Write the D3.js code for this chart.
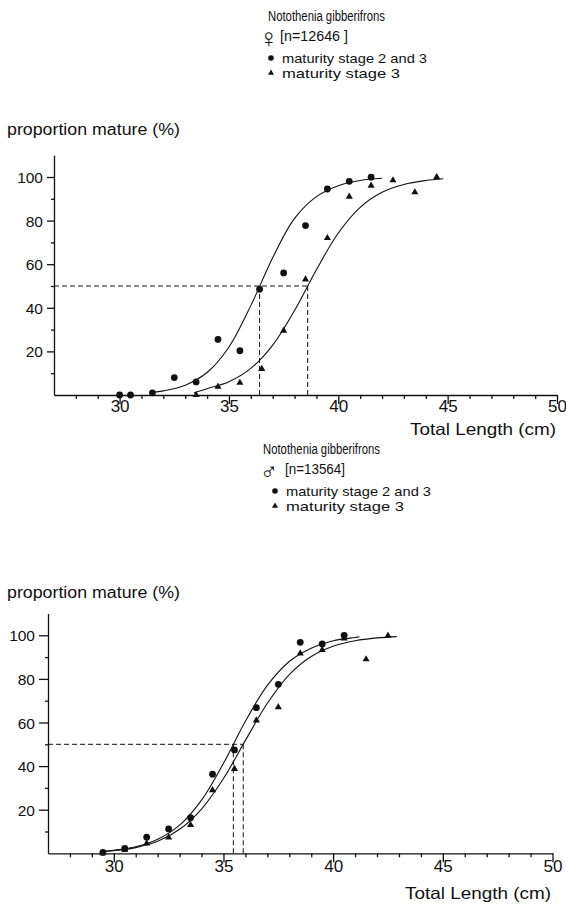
<!DOCTYPE html>
<html><head><meta charset="utf-8">
<script src="https://cdn.jsdelivr.net/npm/d3@7"></script>
<style>
body{margin:0;background:#fff}
svg{display:block}
text{font-family:"Liberation Sans",Arial,Helvetica,sans-serif;fill:#111}
</style>
</head><body>
<script>
// ---------- DATA ----------
// Female panel
const femaleLen23  = [30, 30.5, 31.5, 32.5, 33.5, 34.5, 35.5, 36.4, 37.5, 38.5, 39.5, 40.5, 41.5];
const femaleP23    = [0, 0, 1, 8, 6, 25.5, 20.3, 48.5, 56, 77.7, 94.5, 98, 99.9];
const femaleLen3   = [33.5, 34.5, 35.5, 36.5, 37.5, 38.5, 39.5, 40.5, 41.5, 42.5, 43.5, 44.5];
const femaleP3     = [0, 3.8, 5.6, 12, 29.5, 53, 72, 91, 96, 98.5, 93, 100];
const femaleCurve23Len = [31.5, 32, 33, 34, 35, 36, 37, 38, 39, 40, 41, 42];
const femaleCurve23P   = [1.2, 1.9, 4.5, 10.3, 22, 41, 63, 81, 91, 96, 98.4, 99.4];
const femaleCurve3Len  = [33.4, 34, 35, 36, 37, 38, 39, 40, 41, 42, 43, 44, 44.8];
const femaleCurve3P    = [1.0, 2.9, 6.1, 12.2, 22.9, 38.8, 57.5, 74.3, 86.1, 93, 96.6, 98.4, 99.2];
const femaleL50 = [36.4, 38.6];

// Male panel
const maleLen23  = [29.5, 30.5, 31.5, 32.5, 33.5, 34.5, 35.5, 36.5, 37.5, 38.5, 39.5, 40.5];
const maleP23    = [0.4, 2.2, 7.4, 11.2, 16.3, 36.3, 47.4, 66.8, 77.5, 96.8, 96, 100];
const maleLen3   = [29.5, 30.5, 31.5, 32.5, 33.5, 34.5, 35.5, 36.5, 37.5, 38.5, 39.5, 40.5, 41.5, 42.5];
const maleP3     = [0, 1.5, 4.5, 7.3, 13, 29, 38.7, 61, 67, 91.7, 93.3, 98.6, 89, 99.8];
const maleCurve23Len = [29.5, 30, 31, 32, 33, 34, 35, 36, 37, 38, 39, 40, 41, 41.2];
const maleCurve23P   = [1.0, 1.4, 3.0, 6.4, 12.9, 24.4, 41.3, 60.6, 77, 88, 94.1, 97.5, 99, 99.3];
const maleCurve3Len  = [29.5, 30, 31, 32, 33, 34, 35, 36, 37, 38, 39, 40, 41, 42, 42.9];
const maleCurve3P    = [0.8, 1.2, 2.6, 5.5, 11, 20.3, 34.3, 51.8, 68.8, 82, 90.3, 95, 97.5, 98.8, 99.4];
const maleL50 = [35.45, 35.9];

// Axis ticks
const xTickLabels = [30, 35, 40, 45, 50];
const xMinorTicks = [28, 29, 31, 32, 33, 34, 36, 37, 38, 39, 41, 42, 43, 44, 46, 47, 48, 49];
const yTickLabels = [20, 40, 60, 80, 100];
const yMinorTicks = [10, 30, 50, 70, 90];
const xDomain = [27, 50];
const yDomain = [0, 110];

// Texts
const speciesName = "Notothenia gibberifrons";
const legendLabels = ["maturity stage 2 and 3", "maturity stage 3"];
const yTitle = "proportion mature (%)";
const xTitle = "Total Length (cm)";

// ---------- DRAWING ----------
const W = 566, H = 910;
const ink = "#111";
const svg = d3.select("body").append("svg").attr("width", W).attr("height", H);

function zip(a, b) { return a.map((v, i) => [v, b[i]]); }

function panel(cfg) {
  const g = svg.append("g");
  const x = d3.scaleLinear().domain(xDomain).range([cfg.x0, cfg.x1]);
  const pxPer = cfg.pxPerPct;
  const y = d3.scaleLinear().domain(yDomain).range([cfg.yBase, cfg.yBase - yDomain[1] * pxPer]);

  // x axis: minor ticks
  g.append("g").attr("transform", `translate(0,${cfg.yBase})`)
    .call(d3.axisBottom(x).tickValues(xMinorTicks).tickSize(4).tickSizeOuter(0).tickFormat(""))
    .call(a => a.select(".domain").remove());
  // x axis: major ticks + labels
  const xa = g.append("g").attr("transform", `translate(0,${cfg.yBase})`)
    .call(d3.axisBottom(x).tickValues(xTickLabels).tickSize(9).tickSizeOuter(0).tickFormat(d3.format("d")));
  xa.selectAll("text").attr("y", cfg.xLabelDy).attr("dy", 0)
    .attr("font-size", 17).attr("font-family", '"Liberation Sans",Arial,sans-serif').attr("fill", ink);

  // y axis: minor
  g.append("g").attr("transform", `translate(${cfg.x0},0)`)
    .call(d3.axisLeft(y).tickValues(yMinorTicks).tickSize(3).tickSizeOuter(0).tickFormat(""))
    .call(a => a.select(".domain").remove());
  const ya = g.append("g").attr("transform", `translate(${cfg.x0},0)`)
    .call(d3.axisLeft(y).tickValues(yTickLabels).tickSize(cfg.yTick).tickSizeOuter(0).tickFormat(d3.format("d")));
  ya.selectAll("text").attr("x", -cfg.yLabelGap).attr("dy", "0.36em")
    .attr("font-size", 15.5).attr("font-family", '"Liberation Sans",Arial,sans-serif').attr("fill", ink);

  g.selectAll(".domain, .tick line").attr("stroke", ink).attr("stroke-width", 1.3);

  // dashed reference lines at 50%
  const dash = "5,3";
  g.append("line").attr("x1", x(xDomain[0])).attr("x2", x(d3.max(cfg.l50)))
    .attr("y1", y(50)).attr("y2", y(50))
    .attr("stroke", ink).attr("stroke-width", 1).attr("stroke-dasharray", dash);
  g.selectAll(".l50").data(cfg.l50).join("line")
    .attr("x1", d => x(d)).attr("x2", d => x(d))
    .attr("y1", y(50)).attr("y2", y(0))
    .attr("stroke", ink).attr("stroke-width", 1).attr("stroke-dasharray", dash);

  // fitted curves
  const line = d3.line().x(d => x(d[0])).y(d => y(d[1])).curve(d3.curveCatmullRom.alpha(0.5));
  [cfg.c23, cfg.c3].forEach(c => {
    g.append("path").attr("d", line(c)).attr("fill", "none").attr("stroke", ink).attr("stroke-width", 1.1);
  });

  // points
  g.selectAll(".pt23").data(cfg.p23).join("circle")
    .attr("cx", d => x(d[0])).attr("cy", d => y(d[1])).attr("r", 3.4).attr("fill", ink);
  const tri = d3.symbol().type(d3.symbolTriangle).size(22);
  g.selectAll(".pt3").data(cfg.p3).join("path")
    .attr("d", tri).attr("transform", d => `translate(${x(d[0])},${y(d[1])})`).attr("fill", ink);

  // axis titles
  g.append("text").attr("x", 7).attr("y", cfg.yTitleY).attr("font-size", 16)
    .attr("textLength", 173).attr("lengthAdjust", "spacingAndGlyphs").text(yTitle);
  g.append("text").attr("x", cfg.xTitleX).attr("y", cfg.xTitleY).attr("font-size", 16.5)
    .attr("text-anchor", "end").attr("textLength", 146).attr("lengthAdjust", "spacingAndGlyphs").text(xTitle);

  // legend
  const L = cfg.legend;
  g.append("text").attr("x", L.x).attr("y", L.y).attr("font-size", 14)
    .attr("textLength", 117).attr("lengthAdjust", "spacingAndGlyphs").text(speciesName);
  g.append("text").attr("x", L.symX).attr("y", L.symY).attr("font-size", L.symSize)
    .attr("font-weight", L.symWeight)
    .attr("font-family", '"Liberation Sans",Arial,"DejaVu Sans",sans-serif').text(L.sym);
  g.append("text").attr("x", L.nX).attr("y", L.nY).attr("font-size", 14)
    .attr("textLength", L.nLen).attr("lengthAdjust", "spacingAndGlyphs").text(L.n);
  g.append("circle").attr("cx", L.markX).attr("cy", L.y + 37).attr("r", 2.8).attr("fill", ink);
  g.append("path").attr("d", d3.symbol().type(d3.symbolTriangle).size(16))
    .attr("transform", `translate(${L.markX},${L.y + 52})`).attr("fill", ink);
  g.append("text").attr("x", L.markX + 11).attr("y", L.y + 42).attr("font-size", 13.5)
    .attr("textLength", 145).attr("lengthAdjust", "spacingAndGlyphs").text(legendLabels[0]);
  g.append("text").attr("x", L.markX + 11).attr("y", L.y + 57).attr("font-size", 13.5)
    .attr("textLength", 118).attr("lengthAdjust", "spacingAndGlyphs").text(legendLabels[1]);
}

panel({
  x0: 54, x1: 557, yBase: 395, pxPerPct: 2.18, yTick: 7, yLabelGap: 11, xLabelDy: 17,
  l50: femaleL50,
  c23: zip(femaleCurve23Len, femaleCurve23P), c3: zip(femaleCurve3Len, femaleCurve3P),
  p23: zip(femaleLen23, femaleP23), p3: zip(femaleLen3, femaleP3),
  yTitleY: 135, xTitleX: 556, xTitleY: 435,
  legend: { x: 268, y: 21, symX: 259, symY: 47, symSize: 26, symWeight: "normal", sym: "\u2640",
            nX: 280, nY: 41, n: "[n=12646 ]", nLen: 68, markX: 271 }
});

panel({
  x0: 48, x1: 552.5, yBase: 853.3, pxPerPct: 2.18, yTick: 9, yLabelGap: 13, xLabelDy: 19,
  l50: maleL50,
  c23: zip(maleCurve23Len, maleCurve23P), c3: zip(maleCurve3Len, maleCurve3P),
  p23: zip(maleLen23, maleP23), p3: zip(maleLen3, maleP3),
  yTitleY: 598, xTitleX: 551, xTitleY: 899,
  legend: { x: 263, y: 454, symX: 260, symY: 479, symSize: 24, symWeight: "bold", sym: "\u2642",
            nX: 285, nY: 474, n: "[n=13564]", nLen: 60, markX: 275 }
});
</script>
</body></html>
